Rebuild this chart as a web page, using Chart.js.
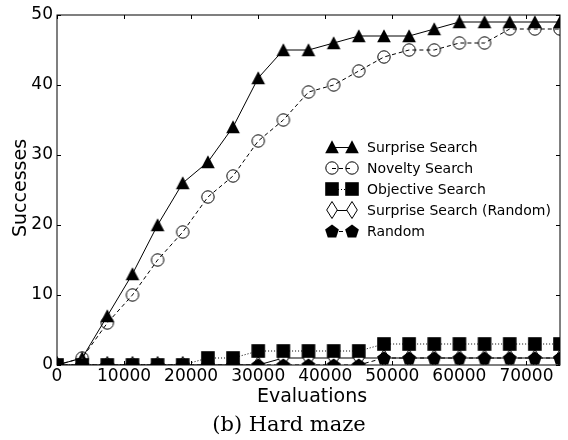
<!DOCTYPE html>
<html>
<head>
<meta charset="utf-8">
<script src="https://cdn.jsdelivr.net/npm/chart.js@4.4.1/dist/chart.umd.min.js"></script>
<style>
  html, body { margin: 0; padding: 0; background: #fff; }
  #wrap { width: 568px; height: 440px; position: relative; }
</style>
</head>
<body>
<div id="wrap"><canvas id="chart" width="568" height="440"></canvas></div>
<script>
// Successes per evaluation budget, hard maze
const evaluations = [0, 3750, 7500, 11250, 15000, 18750, 22500, 26250, 30000, 33750, 37500,
                     41250, 45000, 48750, 52500, 56250, 60000, 63750, 67500, 71250, 75000];
const surpriseSearch  = [0, 1, 7, 13, 20, 26, 29, 34, 41, 45, 45, 46, 47, 47, 47, 48, 49, 49, 49, 49, 49];
const noveltySearch   = [0, 1, 6, 10, 15, 19, 24, 27, 32, 35, 39, 40, 42, 44, 45, 45, 46, 46, 48, 48, 48];
const objectiveSearch = [0, 0, 0, 0, 0, 0, 1, 1, 2, 2, 2, 2, 2, 3, 3, 3, 3, 3, 3, 3, 3];
const surpriseRandom  = [0, 0, 0, 0, 0, 0, 0, 0, 0, 1, 1, 1, 1, 1, 1, 1, 1, 1, 1, 1, 1];
const randomSearch    = [0, 0, 0, 0, 0, 0, 0, 0, 0, 0, 0, 0, 0, 1, 1, 1, 1, 1, 1, 1, 1];

const seriesNames = ['Surprise Search', 'Novelty Search', 'Objective Search',
                     'Surprise Search (Random)', 'Random'];
const xTicks = [0, 10000, 20000, 30000, 40000, 50000, 60000, 70000];
const yTicks = [0, 10, 20, 30, 40, 50];

const xLabel = 'Evaluations';
const yLabel = 'Successes';
const caption = '(b) Hard maze';

// ---- marker sprites ----
function sprite(w, h, paint) {
  const c = document.createElement('canvas');
  c.width = w; c.height = h;
  const g = c.getContext('2d');
  paint(g, w / 2, h / 2);
  return c;
}
const triangleMarker = sprite(16, 16, (g, cx, cy) => {
  g.beginPath();
  g.moveTo(cx, cy - 6.8);
  g.lineTo(cx + 6.8, cy + 6.2);
  g.lineTo(cx - 6.8, cy + 6.2);
  g.closePath();
  g.fillStyle = '#000'; g.fill();
});
const circleMarker = sprite(16, 16, (g, cx, cy) => {
  g.beginPath();
  g.arc(cx, cy, 6.2, 0, Math.PI * 2);
  g.strokeStyle = '#000'; g.lineWidth = 1; g.stroke();
});
const squareMarker = sprite(16, 16, (g, cx, cy) => {
  g.fillStyle = '#000';
  g.fillRect(cx - 6.8, cy - 6.8, 13.6, 13.6);
});
const diamondMarker = sprite(14, 20, (g, cx, cy) => {
  g.beginPath();
  g.moveTo(cx, cy - 8.5);
  g.lineTo(cx + 5.3, cy);
  g.lineTo(cx, cy + 8.5);
  g.lineTo(cx - 5.3, cy);
  g.closePath();
  g.fillStyle = '#fff'; g.fill();
  g.strokeStyle = '#000'; g.lineWidth = 1; g.stroke();
});
const pentagonMarker = sprite(16, 16, (g, cx, cy) => {
  g.beginPath();
  for (let i = 0; i < 5; i++) {
    const a = -Math.PI / 2 + i * 2 * Math.PI / 5;
    const px = cx + 7.2 * Math.cos(a), py = cy + 7.2 * Math.sin(a) + 0.6;
    if (i === 0) g.moveTo(px, py); else g.lineTo(px, py);
  }
  g.closePath();
  g.fillStyle = '#000'; g.fill();
});

const markers = [triangleMarker, circleMarker, squareMarker, diamondMarker, pentagonMarker];
const dashes  = [[], [4, 3], [1, 2], [], [4, 3]];
const values  = [surpriseSearch, noveltySearch, objectiveSearch, surpriseRandom, randomSearch];
// drawing order: higher numbers are painted first (underneath)
const layer   = [5, 4, 2, 3, 1];

const datasets = values.map((vals, i) => ({
  label: seriesNames[i],
  data: evaluations.map((x, k) => ({ x: x, y: vals[k] })),
  borderColor: '#000',
  borderWidth: 1,
  borderDash: dashes[i],
  fill: false,
  tension: 0,
  pointStyle: markers[i],
  pointRadius: 7,
  pointHoverRadius: 7,
  clip: 0,
  order: layer[i]
}));

// Frame, inward tick marks, legend and axis titles
const decorations = {
  id: 'decorations',
  afterDraw(chart) {
    const ctx = chart.ctx;
    const { left, right, top, bottom } = chart.chartArea;
    const xs = chart.scales.x, ys = chart.scales.y;
    ctx.save();
    ctx.strokeStyle = '#000';
    ctx.lineWidth = 1;
    ctx.setLineDash([]);
    ctx.strokeRect(left, top, right - left, bottom - top);
    const tl = 4;
    ctx.beginPath();
    xTicks.forEach(v => {
      const px = Math.round(xs.getPixelForValue(v)) + 0.5;
      ctx.moveTo(px, bottom); ctx.lineTo(px, bottom - tl);
      ctx.moveTo(px, top); ctx.lineTo(px, top + tl);
    });
    yTicks.forEach(v => {
      const py = Math.round(ys.getPixelForValue(v)) + 0.5;
      ctx.moveTo(left, py); ctx.lineTo(left + tl, py);
      ctx.moveTo(right, py); ctx.lineTo(right - tl, py);
    });
    ctx.stroke();

    // legend
    const lx1 = 332, lx2 = 352, tx = 367, ly0 = 147, dy = 21;
    ctx.font = '14px "DejaVu Sans"';
    ctx.fillStyle = '#000';
    ctx.textAlign = 'left';
    ctx.textBaseline = 'middle';
    seriesNames.forEach((name, i) => {
      const y = ly0 + i * dy;
      ctx.beginPath();
      ctx.setLineDash(dashes[i]);
      ctx.moveTo(lx1, y + 0.5); ctx.lineTo(lx2, y + 0.5);
      ctx.stroke();
      ctx.setLineDash([]);
      const m = markers[i];
      ctx.drawImage(m, lx1 - m.width / 2, y - m.height / 2);
      ctx.drawImage(m, lx2 - m.width / 2, y - m.height / 2);
      ctx.fillText(name, tx, y + 1);
    });

    // axis titles and caption
    ctx.font = '19px "DejaVu Sans"';
    ctx.textAlign = 'center';
    ctx.textBaseline = 'alphabetic';
    ctx.fillText(xLabel, 312, 402);
    ctx.save();
    ctx.translate(26, 188);
    ctx.rotate(-Math.PI / 2);
    ctx.fillText(yLabel, 0, 0);
    ctx.restore();
    ctx.font = '21px "DejaVu Serif"';
    ctx.fillText(caption, 289, 431);
    ctx.restore();
  }
};

new Chart(document.getElementById('chart'), {
  type: 'line',
  data: { datasets },
  options: {
    responsive: false,
    animation: false,
    events: [],
    layout: { padding: { left: 0, right: 2, top: 15, bottom: 0 } },
    plugins: { legend: { display: false }, tooltip: { enabled: false } },
    scales: {
      x: {
        type: 'linear',
        min: 0, max: 75000,
        grid: { display: false, drawTicks: false },
        border: { display: false },
        afterBuildTicks: s => { s.ticks = xTicks.map(v => ({ value: v })); },
        afterFit: s => { s.height = 75; },
        ticks: {
          color: '#000',
          font: { family: 'DejaVu Sans', size: 17 },
          padding: 1,
          maxRotation: 0, minRotation: 0, autoSkip: false,
          callback: v => String(v)
        }
      },
      y: {
        type: 'linear',
        min: 0, max: 50,
        grid: { display: false, drawTicks: false },
        border: { display: false },
        afterBuildTicks: s => { s.ticks = yTicks.map(v => ({ value: v })); },
        afterFit: s => { s.width = 57; },
        ticks: {
          color: '#000',
          font: { family: 'DejaVu Sans', size: 17 },
          padding: 4,
          callback: v => String(v)
        }
      }
    }
  },
  plugins: [decorations]
});
</script>
</body>
</html>
